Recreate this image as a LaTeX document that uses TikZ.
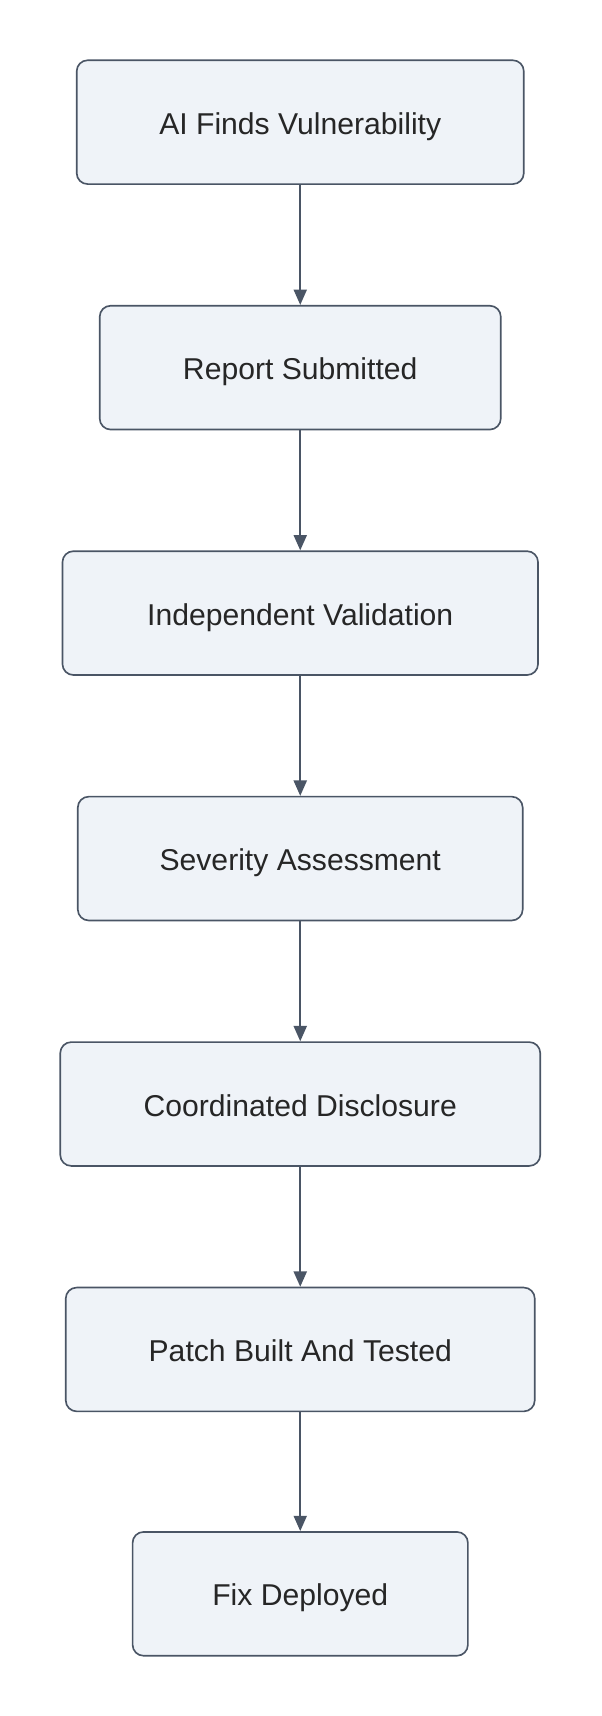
\documentclass[tikz,border=0pt]{standalone}
\usepackage{fontspec}
\setmainfont{Liberation Sans}
\usetikzlibrary{arrows.meta}
\definecolor{boxfill}{HTML}{EFF3F8}
\definecolor{boxline}{HTML}{4A5565}
\begin{document}
\begin{tikzpicture}[x=1pt,y=-1pt,
  box/.style={draw=boxline,fill=boxfill,line width=1.5pt,rounded corners=10pt,font=\fontsize{27.5}{32}\selectfont,text=black!85,text height=24pt,text depth=2pt},
  arr/.style={draw=boxline,line width=1.5pt,-{Triangle[length=14pt,width=12pt]}}]
\useasboundingbox (0,0) rectangle (549,1566);
\def\bx#1#2#3#4#5{\node[box,minimum width=#3-#2,minimum height=113] (#1) at ({(#2+#3)/2},{#4+56.5}) {#5};}
\bx{a}{70}{478}{55}{AI Finds Vulnerability}
\bx{b}{91}{457}{279}{Report Submitted}
\bx{c}{57}{491}{503}{Independent Validation}
\bx{d}{71}{477}{727}{Severity Assessment}
\bx{e}{55}{493}{951}{Coordinated Disclosure}
\bx{f}{60}{488}{1175}{Patch Built And Tested}
\bx{g}{121}{427}{1398}{Fix Deployed}
\foreach \u/\v in {a/b,b/c,c/d,d/e,e/f,f/g}{\draw[arr] (\u.south) -- (\v.north);}
\end{tikzpicture}
\end{document}
